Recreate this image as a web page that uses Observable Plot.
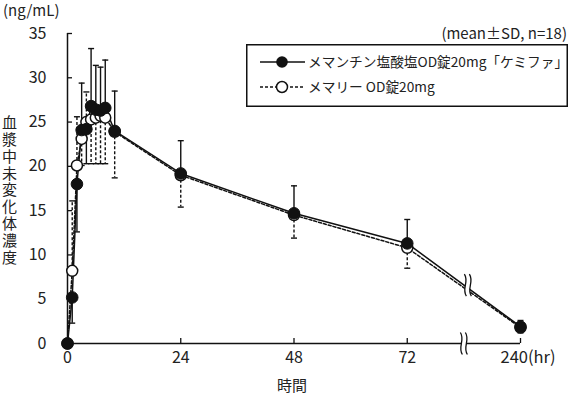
<!DOCTYPE html>
<html><head><meta charset="utf-8">
<script src="https://cdn.jsdelivr.net/npm/d3@7"></script>
<script src="https://cdn.jsdelivr.net/npm/@observablehq/plot@0.6"></script>
<style>
body{margin:0;background:#fff;font-family:"Noto Sans CJK JP","Noto Sans",sans-serif;}
#wrap{position:relative;width:571px;height:398px;overflow:hidden;}
.lbl{position:absolute;color:#222;white-space:nowrap;line-height:1;}
</style></head><body><div id="wrap"></div>
<script>
// ---- data ----
const times      = [0, 1,   2,    3,    4,    5,    6,    7,    8,    10,   24,   48,   72,   240];
const chemiMean  = [0, 5.2, 18.0, 24.1, 24.2, 26.8, 26.4, 26.3, 26.6, 24.0, 19.2, 14.7, 11.3, 1.9];
const chemiSD    = [0, 2.9, 5.4,  5.3,  3.9,  6.5,  5.0,  4.9,  5.4,  4.5,  3.7,  3.1,  2.7,  0.7];
const memaryMean = [0, 8.2, 20.1, 23.1, 25.0, 25.3, 25.5, 25.7, 25.5, 23.9, 19.0, 14.5, 10.8, 1.8];
const memarySD   = [0, 7.9, 5.5,  3.0,  3.4,  5.0,  5.2,  5.4,  5.2,  5.2,  3.6,  2.6,  2.3,  0.6];
const seriesNames = ["メマンチン塩酸塩OD錠20mg「ケミファ」", "メマリー OD錠20mg"];
const yTicks = [0, 5, 10, 15, 20, 25, 30, 35];
const xTicks = [0, 24, 48, 72];
const xTickLabels = ["0", "24", "48", "72"];
const lastTick = 240, lastTickLabel = "240(hr)";
const yDomain = [0, 35];

// broken time axis: 0–72 h linear, 72–240 h compressed into one 24 h slot
const uMax = 96, uBreak = 84;
const u = t => t <= 72 ? t : 72 + 24 * (t - 72) / (240 - 72);

function rows(mean, sd, other, name) {
  return times.map((t, i) => ({
    t, x: u(t), mean: mean[i], sd: sd[i], series: name,
    dir: mean[i] >= other[i] ? 1 : -1
  }));
}
const chemi = rows(chemiMean, chemiSD, memaryMean, seriesNames[0]);
const memary = rows(memaryMean, memarySD, chemiMean, seriesNames[1]);
const errEnd = d => d.mean + d.dir * d.sd;

// break point on the data lines (value of the chemi line at the break)
const nA = chemi[chemi.length - 2], nB = chemi[chemi.length - 1];
const lineBreak = [{x: uBreak, y: nA.mean + (nB.mean - nA.mean) * (uBreak - nA.x) / (nB.x - nA.x)}];

// symbols
const capSym = {draw(ctx) { ctx.moveTo(-3, 0); ctx.lineTo(3, 0); }};
const H = 11;
const breakFillSym = {draw(ctx) {
  ctx.moveTo(-3.5, -H); ctx.bezierCurveTo(1.5, -H / 3, -6.5, H / 3, -1.5, H);
  ctx.lineTo(3.5, H); ctx.bezierCurveTo(-1.5, H / 3, 6.5, -H / 3, 1.5, -H); ctx.closePath();
}};
const breakStrokeSym = {draw(ctx) {
  ctx.moveTo(-3.5, -H); ctx.bezierCurveTo(1.5, -H / 3, -6.5, H / 3, -1.5, H);
  ctx.moveTo(1.5, -H); ctx.bezierCurveTo(6.5, -H / 3, -1.5, H / 3, 3.5, H);
}};

const ink = "#111";
const dash = "3,2";
const plot = Plot.plot({
  width: 571, height: 398,
  marginLeft: 67, marginRight: 51, marginTop: 33, marginBottom: 55,
  x: {domain: [0, uMax], axis: null},
  y: {domain: yDomain, axis: null},
  style: {fontFamily: '"Noto Sans CJK JP","Noto Sans",sans-serif', fontSize: "16px", color: "#222", background: "white"},
  marks: [
    // axes
    Plot.ruleX([0], {y1: yDomain[0], y2: yDomain[1], stroke: ink, strokeWidth: 1.5}),
    Plot.ruleY([0], {x1: 0, x2: uMax, stroke: ink, strokeWidth: 1.5}),
    Plot.tickY(yTicks, {y: d => d, insetRight: 448, stroke: ink, strokeWidth: 1.3}),
    Plot.tickX([...xTicks, lastTick], {x: d => u(d), insetTop: 305, stroke: ink, strokeWidth: 1.3}),
    Plot.axisY({ticks: yTicks, tickSize: 0, tickPadding: 21, fontSize: 16, label: null}),
    Plot.text(xTicks, {x: d => u(d), text: (d, i) => xTickLabels[i], frameAnchor: "bottom", dy: 19, fontSize: 16}),
    Plot.text([lastTick], {x: d => u(d), text: () => lastTickLabel, frameAnchor: "bottom", dy: 19, dx: -20, textAnchor: "start", fontSize: 16.5}),
    Plot.dot([0], {x: () => uBreak, y: () => 0, symbol: breakFillSym, r: 10, fill: "white", stroke: "none"}),
    Plot.dot([0], {x: () => uBreak, y: () => 0, symbol: breakStrokeSym, r: 10, fill: "none", stroke: ink, strokeWidth: 1.3}),
    // error bars
    Plot.ruleX(memary.filter(d => d.sd > 0), {x: "x", y1: "mean", y2: errEnd, stroke: ink, strokeWidth: 1.4, strokeDasharray: dash}),
    Plot.dot(memary.filter(d => d.sd > 0), {x: "x", y: errEnd, symbol: capSym, r: 3, fill: "none", stroke: ink, strokeWidth: 1.4}),
    Plot.ruleX(chemi.filter(d => d.sd > 0), {x: "x", y1: "mean", y2: errEnd, stroke: ink, strokeWidth: 1.4}),
    Plot.dot(chemi.filter(d => d.sd > 0), {x: "x", y: errEnd, symbol: capSym, r: 3, fill: "none", stroke: ink, strokeWidth: 1.4}),
    // lines
    Plot.line(memary, {x: "x", y: "mean", stroke: ink, strokeWidth: 1.5, strokeDasharray: dash}),
    Plot.line(chemi, {x: "x", y: "mean", stroke: ink, strokeWidth: 1.5}),
    // break on the lines
    Plot.dot(lineBreak, {x: "x", y: "y", symbol: breakFillSym, r: 10, fill: "white", stroke: "none", dx: 4}),
    Plot.dot(lineBreak, {x: "x", y: "y", symbol: breakStrokeSym, r: 10, fill: "none", stroke: ink, strokeWidth: 1.3, dx: 4}),
    // points
    Plot.dot(memary, {x: "x", y: "mean", r: 5.5, fill: "white", stroke: ink, strokeWidth: 1.5}),
    Plot.dot(chemi, {x: "x", y: "mean", r: 5.8, fill: ink, stroke: ink, strokeWidth: 1})
  ]
});

const wrap = document.getElementById("wrap");
wrap.appendChild(plot);

function addLabel(html, css) {
  const d = document.createElement("div");
  d.className = "lbl";
  d.innerHTML = html;
  Object.assign(d.style, css);
  wrap.appendChild(d);
}
addLabel("(ng/mL)", {left: "3px", top: "2px", fontSize: "15px"});
addLabel("(mean±SD, n=18)", {right: "4px", top: "25px", fontSize: "15px"});
addLabel("時間", {left: "277px", top: "377px", fontSize: "15px"});
addLabel("血漿中未変化体濃度", {left: "2px", top: "115px", fontSize: "15px", writingMode: "vertical-rl", textOrientation: "upright", letterSpacing: "1.8px"});

// legend
const lg = `<svg width="322" height="63" style="display:block">
  <rect x="0.75" y="0.75" width="320.5" height="61.5" fill="white" stroke="${ink}" stroke-width="1.5"/>
  <line x1="14" x2="59" y1="18" y2="18" stroke="${ink}" stroke-width="1.5"/>
  <circle cx="36" cy="18" r="5.8" fill="${ink}"/>
  <text x="62" y="18" dy="0.35em" font-size="13.7" fill="#222">${seriesNames[0]}</text>
  <line x1="14" x2="59" y1="43" y2="43" stroke="${ink}" stroke-width="1.5" stroke-dasharray="${dash}"/>
  <circle cx="36" cy="43" r="5.5" fill="white" stroke="${ink}" stroke-width="1.5"/>
  <text x="62" y="43" dy="0.35em" font-size="13.7" fill="#222">${seriesNames[1]}</text>
</svg>`;
addLabel(lg, {left: "246px", top: "44px", fontFamily: '"Noto Sans CJK JP",sans-serif'});
</script></body></html>
